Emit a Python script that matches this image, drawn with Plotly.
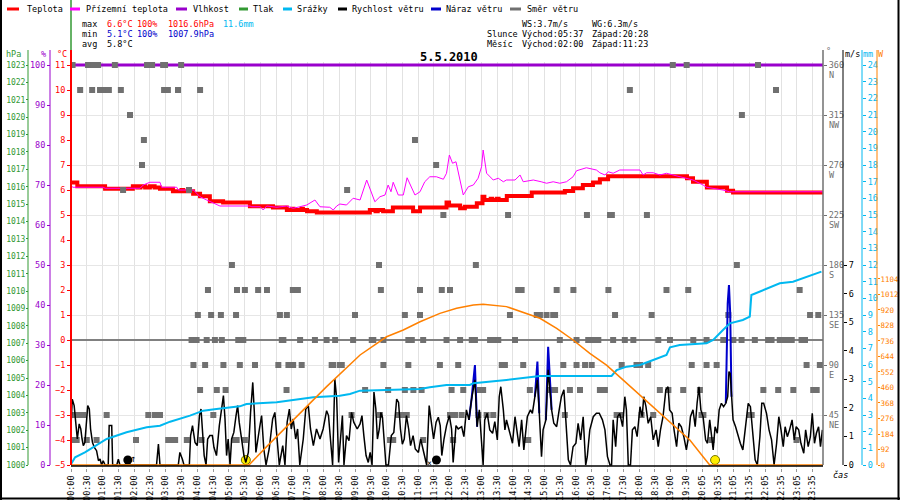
import plotly.graph_objects as go

# ---------------- data (x = chart position in hours, as on the time axis) ----------------
time_labels = ["00:00", "00:30", "01:00", "01:30", "02:00", "02:30", "03:00", "03:30",
               "04:00", "04:30", "05:00", "05:30", "06:00", "06:30", "07:00", "07:30",
               "08:00", "08:30", "09:00", "09:30", "10:00", "10:30", "11:00", "11:30",
               "12:00", "12:30", "13:00", "13:30", "14:00", "14:30", "15:00", "15:30",
               "16:00", "16:30", "17:00", "17:30", "18:00", "18:30", "19:00", "19:30",
               "20:05", "20:35", "21:05", "21:35", "22:05", "22:35", "23:05", "23:35"]

# Teplota (°C), step series
temp_t = [0, 0.2, 1.08, 1.96, 2.1, 2.2, 2.35, 2.5, 2.65, 2.82, 3.23, 3.5, 3.55, 3.7, 3.75,
          3.87, 4.09, 4.40, 4.82, 5.67, 6.40, 6.84, 7.0, 7.05, 7.3, 7.35, 7.48, 7.79, 9.47,
          9.65, 9.72, 9.89, 10.20, 10.84, 11.06, 11.90, 11.98, 12.33, 12.48, 12.86, 13.04,
          13.10, 13.3, 13.35, 13.5, 13.55, 13.81, 14.60, 15.65, 15.91, 16.22, 16.54, 16.76,
          17.02, 19.52, 19.71, 20.15, 20.79, 20.98, 23.83]
temp_v = [6.3, 6.15, 6.05, 6.15, 6.1, 6.15, 6.1, 6.15, 6.1, 6.05, 5.95, 6.0, 5.95, 6.0, 5.95,
          5.85, 5.75, 5.55, 5.5, 5.35, 5.3, 5.2, 5.25, 5.2, 5.25, 5.2, 5.15, 5.1, 5.2,
          5.15, 5.2, 5.15, 5.3, 5.15, 5.3, 5.5, 5.38, 5.27, 5.33, 5.47, 5.73,
          5.6, 5.65, 5.6, 5.65, 5.6, 5.76, 5.9, 5.96, 6.07, 6.2, 6.3, 6.43,
          6.55, 6.47, 6.33, 6.1, 5.97, 5.9, 5.9]

# Přízemní teplota (°C)
ground_t = [0, 0.05, 1.02, 1.08, 2.19, 2.29, 2.50, 2.82, 2.87, 3.35, 3.40, 3.88, 3.98, 4.09,
            4.30, 4.51, 4.72, 5.67, 5.73, 6.00, 6.09, 6.20, 6.52, 6.83, 7.04, 7.25, 7.47,
            7.73, 7.89, 8.20, 8.31, 8.42, 8.52, 8.73, 8.94, 9.16, 9.37, 9.63, 9.79, 9.95,
            10.05, 10.14, 10.21, 10.37, 10.53, 10.65, 10.76, 10.90, 11.06, 11.21, 11.37,
            11.58, 11.80, 11.90, 11.99, 12.09, 12.20, 12.32, 12.43, 12.59, 12.75, 12.90,
            13.01, 13.06, 13.17, 13.38, 13.54, 13.70, 13.80, 14.07, 14.23, 14.33, 14.65,
            14.90, 15.07, 15.28, 15.49, 15.70, 15.91, 16.02, 16.33, 16.65, 16.76, 16.92,
            17.02, 17.18, 17.39, 18.03, 18.13, 18.24, 18.45, 18.66, 18.87, 19.08, 19.29,
            19.50, 19.71, 20.03, 20.14, 20.66, 20.87, 23.83]
ground_v = [6.2, 6.11, 6.11, 6.07, 6.07, 6.2, 6.31, 6.31, 6.11, 6.11, 6.0, 6.0, 5.87, 5.73,
            5.6, 5.47, 5.36, 5.36, 5.33, 5.33, 5.2, 5.36, 5.31, 5.36, 5.27, 5.33, 5.4,
            5.6, 5.33, 5.31, 5.2, 5.36, 5.44, 5.4, 5.67, 5.6, 6.4, 5.53, 5.73, 5.8,
            6.2, 5.93, 6.31, 5.8, 5.8, 6.49, 6.2, 5.8, 5.93, 6.33, 6.53,
            6.53, 6.43, 6.67, 7.4, 7.07, 7.13, 6.4, 5.8, 6.13, 6.2, 6.47,
            6.93, 7.6, 6.67, 6.4, 6.47, 6.33, 6.4, 6.4, 6.6, 6.33, 6.4,
            6.33, 6.27, 6.33, 6.27, 6.33, 6.53, 6.77, 6.89, 6.8, 6.69, 6.6,
            6.73, 6.67, 6.8, 6.8, 6.6, 6.69, 6.69, 6.6, 6.67, 6.6, 6.53,
            6.49, 6.4, 6.2, 6.11, 6.0, 5.93, 5.93]

# Vlhkost (%)
hum_t = [0, 23.83]
hum_v = [100, 100]

# Tlak (hPa) - no pressure curve is drawn in the chart
press_t = []
press_v = []

# Srážky (mm, cumulative)
rain_t = [0, 0.13, 0.44, 0.71, 1.13, 1.76, 2.40, 2.82, 3.14, 3.77, 4.19, 4.61, 5.35, 5.56,
          6.52, 7.04, 7.68, 8.52, 8.84, 9.16, 10.21, 11.06, 11.37, 11.90, 12.64, 12.75,
          13.80, 14.54, 14.86, 17.13, 17.29, 17.61, 18.03, 18.45, 18.87, 18.98, 19.29,
          20.14, 20.35, 20.66, 20.88, 21.29, 21.51, 21.56, 21.83, 22.46, 22.88, 23.31, 23.78]
rain_v = [0.05, 0.46, 0.76, 1.06, 1.56, 1.96, 2.26, 2.36, 2.6, 2.96, 3.26, 3.36, 3.52, 3.66,
          3.76, 3.9, 4.06, 4.16, 4.26, 4.46, 4.5, 4.56, 4.66, 4.8, 4.8, 4.9,
          5.1, 5.26, 5.34, 5.34, 5.7, 5.9, 6.0, 6.3, 6.6, 7.06, 7.2,
          7.3, 7.5, 8.1, 8.5, 8.7, 8.9, 10.2, 10.4, 10.9, 11.0, 11.3, 11.6]

# Sluneční záření (W)
sun_t = [0, 5.64, 6.20, 7.04, 8.10, 9.16, 10.0, 10.53, 11.06, 11.69, 12.22, 12.75, 13.06,
         13.80, 14.43, 14.86, 15.39, 15.91, 16.44, 16.97, 17.50, 18.03, 18.56, 19.08,
         19.61, 20.03, 20.24, 23.83]
sun_v = [0, 0, 109, 267, 465, 653, 761, 801, 850, 900, 930, 950, 954,
         940, 900, 871, 811, 742, 663, 593, 504, 415, 326, 237,
         148, 49, 0, 0]

# Rychlost větru (m/s)
wind_t = [0.00, 0.04, 0.10, 0.16, 0.20, 0.26, 0.31, 0.35, 0.39, 0.44, 0.48, 0.53, 0.58, 0.62,
          0.68, 0.74, 0.81, 0.87, 0.92, 0.97, 1.02, 1.08, 1.18, 1.21, 1.29, 1.32, 1.45, 1.50,
          1.55, 2.71, 2.77, 2.82, 3.40, 3.45, 3.53, 3.58, 3.75, 3.79, 3.85, 3.93, 4.00, 4.07,
          4.12, 4.17, 4.22, 4.28, 4.33, 4.40, 4.48, 4.53, 4.61, 4.70, 4.77, 4.83, 4.88, 4.93,
          4.98, 5.04, 5.09, 5.16, 5.23, 5.28, 5.33, 5.41, 5.48, 5.54, 5.62, 5.69, 5.76, 5.81,
          5.86, 5.97, 6.04, 6.11, 6.18, 6.28, 6.39, 6.46, 6.54, 6.60, 6.71, 6.78, 6.85, 6.92,
          6.98, 7.04, 7.12, 7.18, 7.25, 7.36, 7.44, 7.52, 7.59, 7.68, 7.78, 7.89, 7.99, 8.10,
          8.16, 8.23, 8.29, 8.36, 8.42, 8.48, 8.54, 8.60, 8.65, 8.73, 8.81, 8.89, 8.96, 9.07,
          9.16, 9.22, 9.28, 9.35, 9.42, 9.48, 9.54, 9.60, 9.66, 9.71, 9.77, 9.82, 9.87, 9.93,
          9.98, 10.06, 10.15, 10.23, 10.32, 10.38, 10.44, 10.50, 10.56, 10.63, 10.70, 10.76,
          10.84, 10.91, 11.01, 11.08, 11.16, 11.27, 11.35, 11.43, 11.49, 11.57, 11.64, 11.70,
          11.75, 11.82, 11.90, 11.99, 12.06, 12.11, 12.20, 12.27, 12.38, 12.45, 12.53, 12.61,
          12.69, 12.80, 12.87, 12.94, 13.01, 13.06, 13.11, 13.19, 13.27, 13.36, 13.43, 13.51,
          13.57, 13.62, 13.70, 13.75, 13.80, 13.91, 13.99, 14.07, 14.12, 14.20, 14.28, 14.35,
          14.46, 14.56, 14.62, 14.70, 14.78, 14.84, 14.91, 14.96, 15.05, 15.12, 15.23, 15.30,
          15.39, 15.47, 15.54, 15.62, 15.68, 15.76, 15.83, 15.91, 16.00, 16.07, 16.15, 16.23,
          16.31, 16.36, 16.44, 16.55, 16.65, 16.74, 16.84, 16.92, 17.00, 17.08, 17.13, 17.18,
          17.26, 17.32, 17.39, 17.48, 17.55, 17.60, 17.66, 17.73, 17.79, 17.87, 17.94, 18.03,
          18.10, 18.15, 18.22, 18.29, 18.37, 18.45, 18.54, 18.61, 18.68, 18.76, 18.85, 18.92,
          18.97, 19.05, 19.11, 19.19, 19.26, 19.34, 19.42, 19.50, 19.57, 19.63, 19.71, 19.78,
          19.84, 19.90, 19.96, 20.03, 20.11, 20.17, 20.24, 20.30, 20.35, 20.41, 20.48, 20.54,
          20.61, 20.68, 20.75, 20.81, 20.85, 20.89, 20.93, 20.98, 21.06, 21.14, 21.21, 21.29,
          21.38, 21.46, 21.53, 21.62, 21.68, 21.75, 21.83, 21.89, 21.95, 22.04, 22.12, 22.20,
          22.28, 22.36, 22.43, 22.50, 22.57, 22.63, 22.70, 22.77, 22.85, 22.92, 22.98, 23.06,
          23.13, 23.22, 23.28, 23.36, 23.43, 23.49, 23.56, 23.62, 23.69, 23.75, 23.81]
wind_v = [1.38, 2.30, 2.08, 1.26, 0.91, 1.44, 1.26, 0.91, 0.68, 0.79, 1.26, 2.08, 1.96, 1.26,
          0.79, 0.62, 0.50, 0.15, 0.21, 0, 0.15, 0, 0, 1.38, 1.38, 0, 0, 0.2,
          0, 0, 0.73, 0, 0, 0.44, 0.2, 0, 0, 1.03, 1.38, 0.79, 0.68, 1.73,
          1.96, 1.26, 0.33, 0, 0.91, 1.03, 1.03, 0.62, 0.33, 1.38, 1.96, 2.43, 1.61, 0.33,
          0.91, 0, 0.91, 1.14, 1.73, 2.08, 1.50, 0.91, 0.33, 0.09, 0.44, 1.84, 2.89, 1.84,
          0.44, 1.26, 1.73, 0.56, 0, 0.56, 1.61, 1.84, 0.91, 0, 0.68, 0, 1.50, 1.96,
          1.26, 1.61, 0.91, 1.26, 0, 0.91, 1.96, 2.08, 1.26, 0.68, 1.26, 0.91, 1.26, 1.90,
          1.73, 0.79, 0, 3.01, 2.31, 0.09, 0.79, 1.73, 0, 1.03, 0.85, 1.84, 1.50, 1.26,
          1.44, 1.73, 1.03, 0.33, 0.09, 0.44, 0, 2.55, 1.96, 0.91, 1.26, 1.84, 1.67, 0.91,
          0, 0, 1.03, 1.14, 2.31, 2.19, 1.26, 0.73, 0.91, 1.73, 1.26, 0.68,
          1.03, 0.56, 0.44, 0.91, 0.50, 0, 2.08, 1.50, 0.91, 1.50, 1.67, 1.38,
          0.33, 0.91, 1.38, 1.73, 1.26, 0.09, 1.38, 1.26, 1.34, 0.99, 1.93, 1.58,
          2.28, 2.98, 1.34, 1.93, 0.53, 0, 1.58, 1.81, 1.23, 1.11, 1.52, 0.88,
          2.39, 2.74, 1.93, 1.23, 1.58, 1.11, 0.76, 1.69, 1.23, 0.64, 1.58, 0.53,
          1.69, 1.93, 1.81, 2.39, 2.98, 1.81, 0.29, 1.23, 1.58, 3.33, 1.93, 1.46,
          1.34, 1.93, 2.39, 2.63, 1.69, 0.18, 0, 0.64, 0.76, 1.46, 0.88, 1.69,
          0, 0.29, 1.23, 1.69, 1.81, 1.81, 1.58, 1.23, 0.29, 0, 0, 1.58,
          0.64, 1.69, 1.81, 1.34, 2.39, 1.93, 0, 0, 1.23, 1.34, 0.99, 2.04,
          1.69, 2.39, 2.04, 1.46, 1.69, 0.88, 1.23, 0.64, 1.23, 1.69, 2.63, 2.74,
          1.93, 1.81, 1.23, 0.64, 1.46, 1.34, 0.99, 0.53, 0.99, 1.69, 1.93, 1.34,
          2.16, 2.74, 1.93, 1.69, 0.88, 0.76, 1.58, 1.11, 0.53, 1.34, 1.11, 1.93,
          2.16, 2.04, 2.16, 2.39, 3.27, 3.20, 2.39, 1.58, 1.34, 0.99, 0.76, 0.53,
          1.34, 2.16, 2.04, 0.99, 0.18, 0, 0.99, 2.16, 2.16, 1.81, 1.23, 0.88,
          0, 0.76, 1.69, 1.23, 0.64, 1.34, 0.99, 1.23, 1.58, 0.88, 1.34, 1.23,
          0.76, 0.41, 1.23, 0.64, 0.99, 1.81, 0.76, 1.11, 1.34, 0.64, 1.23]

# Náraz větru (m/s) - only where gusts rise above the wind speed line
gust_t = [12.61, 12.69, 12.80, 12.87, None, 14.70, 14.78, 14.84, None,
          15.05, 15.12, 15.23, None, 20.75, 20.81, 20.85, 20.89, 20.93]
gust_v = [1.58, 2.28, 3.50, 1.34, None, 2.39, 3.62, 1.81, None,
          1.58, 4.14, 1.93, None, 2.16, 5.66, 6.30, 5.30, 2.39]

# Směr větru (°) - sample positions per compass direction
dir_360 = [0.05, 0.54, 0.70, 0.86, 1.39, 2.41, 2.57, 2.92, 2.98, 3.49, 19.07, 19.51, 21.77]
dir_337 = [0.29, 0.67, 0.92, 1.08, 1.20, 1.58, 2.95, 3.07, 3.39, 4.09, 17.71, 22.34]
dir_315 = [1.87, 21.26]
dir_292 = [2.31, 10.90]
dir_270 = [2.25, 11.57]
dir_247 = [1.65, 3.74, 8.75]
dir_225 = [11.80, 13.85, 16.35, 17.08, 17.14, 18.25]
dir_180 = [5.10, 9.76, 12.83, 21.10]
dir_157 = [4.34, 5.26, 5.51, 5.93, 6.21, 7.03, 7.19, 9.82, 11.06, 11.75, 12.01, 14.17, 14.28,
           15.39, 15.92, 17.03, 18.87, 19.56, 23.09]
dir_135 = [4.02, 4.44, 4.75, 5.23, 6.62, 6.84, 9.00, 10.58, 11.06, 13.91, 14.76, 14.86, 15.07,
           15.28, 15.34, 17.24, 18.40, 20.83, 23.42, 23.68]
dir_112 = [3.82, 3.98, 4.30, 4.56, 4.78, 5.30, 5.46, 6.68, 6.73, 7.26, 7.73, 8.10, 8.37, 8.94,
           9.53, 9.58, 9.90, 10.69, 10.80, 11.16, 11.90, 12.33, 12.70, 12.80, 13.28, 13.38,
           13.54, 14.07, 15.49, 16.02, 16.39, 16.55, 16.71, 17.18, 17.55, 17.82, 18.61, 18.98,
           19.72, 20.14, 20.67, 20.99, 21.25, 21.67, 22.09, 22.20, 22.46, 22.57, 22.68, 22.84,
           23.15, 23.26]
dir_090 = [3.88, 4.25, 4.83, 5.35, 5.83, 6.57, 6.89, 7.04, 7.31, 8.26, 8.31, 8.52, 8.58, 9.90,
           10.69, 11.69, 12.27, 13.65, 13.75, 14.33, 15.60, 16.02, 16.29, 16.50, 17.45, 17.92,
           18.03, 18.29, 19.67, 20.14, 20.46, 23.31, 23.73]
dir_067 = [4.09, 4.62, 4.90, 6.83, 9.32, 10.05, 10.58, 10.85, 11.11, 12.06, 12.43, 12.96, 13.06,
           14.54, 15.18, 15.34, 15.81, 16.13, 16.76, 16.92, 18.66, 18.93, 19.40, 19.93, 21.94,
           22.41, 22.89, 23.52, 23.63]
dir_045 = [0.07, 0.23, 0.39, 1.13, 2.45, 2.66, 2.72, 2.82, 4.51, 8.89, 9.79, 10.37, 10.53, 10.64,
           12.01, 12.17, 12.38, 12.91, 13.17, 13.38, 15.65, 17.29, 17.40, 18.08, 18.45, 19.98,
           20.04, 21.51, 21.57]
dir_022 = [0.02, 0.18, 0.50, 0.81, 2.06, 3.08, 3.19, 3.30, 3.67, 4.14, 5.20, 5.25, 5.51, 10.11,
           10.21, 11.16, 12.11, 14.44, 14.49, 20.30, 22.99]

# Sun / moon events (chart positions)
sun_events = [5.54, 20.41]
moon_events = [1.80, 11.58]
moonrise_pos = 1.97
moonset_pos = 11.37

# ---------------- layout constants ----------------
FONT = "DejaVu Sans Mono"
FW, FH = 900, 500
L, R, T, B = 71, 823, 65, 465
PAD = 3
X_END = 23.83

RED = "#ff0000"
MAGENTA = "#ff00ff"
PURPLE = "#9900cc"
GREEN = "#339933"
CYAN = "#00b8f0"
BLACK = "#000000"
BLUE = "#0000cc"
GRAY = "#707070"
ORANGE = "#ff8000"


def fx(p):
    return p / FW


def fy(p):
    return 1 - p / FH


def yrange(v_bottom, v_top):
    s = (v_top - v_bottom) / (B - T)
    return [v_bottom - PAD * s, v_top + PAD * s]


fig = go.Figure()

# wind direction squares
dir_groups = [(360, dir_360), (337.5, dir_337), (315, dir_315), (292.5, dir_292),
              (270, dir_270), (247.5, dir_247), (225, dir_225), (180, dir_180),
              (157.5, dir_157), (135, dir_135), (112.5, dir_112), (90, dir_090),
              (67.5, dir_067), (45, dir_045), (22.5, dir_022)]
dx, dy = [], []
for deg, times in dir_groups:
    dx += times
    dy += [deg] * len(times)
fig.add_trace(go.Scatter(x=dx, y=dy, yaxis="y4", mode="markers", name="Směr větru",
                         marker=dict(symbol="square", size=6, color=GRAY, line=dict(width=0))))

# pressure (keeps the hPa axis alive; nothing plotted)
fig.add_trace(go.Scatter(x=press_t, y=press_v, yaxis="y2", mode="lines", name="Tlak",
                         line=dict(color=GREEN, width=1)))
fig.add_trace(go.Scatter(x=hum_t, y=hum_v, yaxis="y3", mode="lines", name="Vlhkost",
                         line=dict(color=PURPLE, width=3)))
fig.add_trace(go.Scatter(x=sun_t, y=sun_v, yaxis="y7", mode="lines", name="Záření",
                         line=dict(color=ORANGE, width=1.5)))
fig.add_trace(go.Scatter(x=rain_t, y=rain_v, yaxis="y6", mode="lines", name="Srážky",
                         line=dict(color=CYAN, width=2)))
fig.add_trace(go.Scatter(x=temp_t, y=temp_v, yaxis="y", mode="lines", name="Teplota",
                         line=dict(color=RED, width=4, shape="hv")))
fig.add_trace(go.Scatter(x=ground_t, y=ground_v, yaxis="y", mode="lines", name="Přízemní teplota",
                         line=dict(color=MAGENTA, width=1)))
fig.add_trace(go.Scatter(x=gust_t, y=gust_v, yaxis="y5", mode="lines", name="Náraz větru",
                         line=dict(color=BLUE, width=2), connectgaps=False))
fig.add_trace(go.Scatter(x=wind_t, y=wind_v, yaxis="y5", mode="lines", name="Rychlost větru",
                         line=dict(color=BLACK, width=1.5)))
fig.add_trace(go.Scatter(x=sun_events, y=[-4.8] * len(sun_events), yaxis="y", mode="markers",
                         marker=dict(size=9, color="#ffee00", line=dict(color="#777700", width=1))))
fig.add_trace(go.Scatter(x=moon_events, y=[-4.8] * len(moon_events), yaxis="y", mode="markers",
                         marker=dict(size=9, color="#000000")))

for tr in fig.data:
    tr.showlegend = False
    tr.hoverinfo = "skip"


def yax(color, rng, tickvals, size=8.5, **kw):
    d = dict(range=rng, tickvals=tickvals, showgrid=False, zeroline=False, showline=False,
             ticks="outside", ticklen=3, tickcolor=color, tickwidth=1,
             tickfont=dict(family=FONT, size=size, color=color), fixedrange=True,
             automargin=False, ticklabeloverflow="allow")
    d.update(kw)
    return d


fig.update_layout(
    width=FW, height=FH, margin=dict(l=0, r=0, t=0, b=0),
    paper_bgcolor="white", plot_bgcolor="white", showlegend=False,
    xaxis=dict(domain=[fx(L), fx(R)], range=[0, X_END],
               tickvals=[i * 0.5 for i in range(len(time_labels))], ticktext=time_labels,
               tickangle=-90, tickfont=dict(family=FONT, size=8.5, color="black"),
               showgrid=True, gridcolor="#e2e2e2", gridwidth=1, zeroline=False,
               showline=False, ticks="outside", ticklen=3, tickcolor="#999999",
               fixedrange=True, automargin=False, ticklabeloverflow="allow"),
    yaxis=yax(RED, yrange(-5, 11), list(range(-5, 12)), domain=[fy(B + PAD), fy(T - PAD)],
              anchor="x", side="left", zeroline=True, zerolinecolor="#808080",
              zerolinewidth=1.5),
    yaxis2=yax(GREEN, yrange(1000, 1023), list(range(1000, 1024)), size=8, overlaying="y",
               anchor="free", position=fx(28), side="left", ticklen=2,
               ticklabelstandoff=-1),
    yaxis3=yax(PURPLE, yrange(0, 100), list(range(0, 101, 10)), overlaying="y",
               anchor="free", position=fx(50), side="left"),
    yaxis4=yax(GRAY, yrange(0, 360), list(range(45, 361, 45)), overlaying="y",
               anchor="x", side="right", showgrid=True, gridcolor="#e6e6e6", gridwidth=1),
    yaxis5=yax(BLACK, yrange(0, 14), list(range(0, 8)), overlaying="y",
               anchor="free", position=fx(843), side="right"),
    yaxis6=yax(CYAN, yrange(0, 24), list(range(0, 25)), overlaying="y",
               anchor="free", position=fx(862), side="right"),
    yaxis7=yax(ORANGE, yrange(0, 2374), list(range(0, 1105, 92)), size=7.5, overlaying="y",
               anchor="free", position=fx(877), side="right", ticklen=2,
               ticklabelstandoff=-1),
)

shapes = []


def vline(xp, y0, y1, color, width=1):
    shapes.append(dict(type="line", xref="paper", yref="paper", x0=fx(xp), x1=fx(xp),
                       y0=fy(y0), y1=fy(y1), line=dict(color=color, width=width)))


def hline(yp, x0, x1, color, width=1):
    shapes.append(dict(type="line", xref="paper", yref="paper", x0=fx(x0), x1=fx(x1),
                       y0=fy(yp), y1=fy(yp), line=dict(color=color, width=width)))


vline(28, 50, B, GREEN)
vline(50, 50, B, PURPLE)
vline(71, 0, 50, GREEN, 1.5)
vline(71, 50, B, RED, 2)
vline(823, 50, B, GRAY, 1.5)
vline(843, 50, B, BLACK)
vline(862, 50, B, CYAN)
vline(877, 50, B, ORANGE)
hline(B + 1, L, R, BLACK, 1.5)
# outer frame
vline(1, 0, 500, BLACK, 2)
vline(898.5, 0, 500, BLACK, 2)
hline(498.5, 0, 900, BLACK, 2)

# legend swatches
legend_items = [("Teplota", RED, 7, 19, 25), ("Přízemní teplota", MAGENTA, 70, 80, 84),
                ("Vlhkost", PURPLE, 176, 187, 191), ("Tlak", GREEN, 239, 248, 251),
                ("Srážky", CYAN, 283, 292, 295), ("Rychlost větru", BLACK, 338, 347, 350),
                ("Náraz větru", BLUE, 431, 441, 444), ("Směr větru", GRAY, 510, 521, 525)]
ann = []


def text(xp, yp, s, color="black", size=8.5, xanchor="left", bold=False):
    ann.append(dict(xref="paper", yref="paper", x=fx(xp), y=fy(yp), text=f"<b>{s}</b>" if bold else s,
                    showarrow=False, xanchor=xanchor, yanchor="middle",
                    font=dict(family=FONT, size=size, color=color)))


for name, col, x0, x1, xt in legend_items:
    hline(9, x0, x1, col, 3)
    text(xt, 9, name)

# statistics block
text(80, 24, "max")
text(105, 24, "6.6°C", RED)
text(135, 24, "100%", RED)
text(166, 24, "1016.6hPa", RED)
text(221, 24, "11.6mm", CYAN)
text(80, 34, "min")
text(105, 34, "5.1°C", BLUE)
text(135, 34, "100%", BLUE)
text(166, 34, "1007.9hPa", BLUE)
text(80, 44, "avg")
text(105, 44, "5.8°C")

text(520, 24, "WS:3.7m/s")
text(590, 24, "WG:6.3m/s")
text(485, 34, "Slunce")
text(520, 34, "Východ:05:37")
text(590, 34, "Západ:20:28")
text(485, 44, "Měsíc")
text(520, 44, "Východ:02:00")
text(590, 44, "Západ:11:23")

# title
text(449, 57, "5.5.2010", size=12, xanchor="center", bold=True)

# axis units
text(13, 54, "hPa", GREEN, xanchor="center")
text(43, 54, "%", PURPLE, xanchor="center")
text(62, 54, "°C", RED, xanchor="center")
text(828, 51, "°", GRAY, xanchor="center")
text(852, 54, "m/s", BLACK, xanchor="center")
text(868, 54, "mm", CYAN, xanchor="center")
text(881, 54, "W", ORANGE, xanchor="center")
text(840, 475, "<i>čas</i>", BLACK, xanchor="center")

# compass letters under direction ticks
for deg, letter in [(360, "N"), (315, "NW"), (270, "W"), (225, "SW"), (180, "S"),
                    (135, "SE"), (90, "E"), (45, "NE")]:
    ann.append(dict(xref="paper", yref="y4", x=fx(827), y=deg, yshift=-10, text=letter,
                    showarrow=False, xanchor="left", yanchor="middle",
                    font=dict(family=FONT, size=8.5, color=GRAY)))

# moon rise / set marks
ann.append(dict(xref="x", yref="y", x=moonrise_pos, y=-4.75, text="↑", showarrow=False,
                xanchor="center", yanchor="middle", font=dict(family=FONT, size=10, color="black")))
ann.append(dict(xref="x", yref="y", x=moonset_pos, y=-4.93, text="×", showarrow=False,
                xanchor="center", yanchor="middle", font=dict(family=FONT, size=8, color="black")))

fig.update_layout(shapes=shapes, annotations=ann)
fig.write_html("out.html", config={"displayModeBar": False, "staticPlot": True},
               post_script="document.body.style.margin='0px';document.body.style.overflow='hidden';")
